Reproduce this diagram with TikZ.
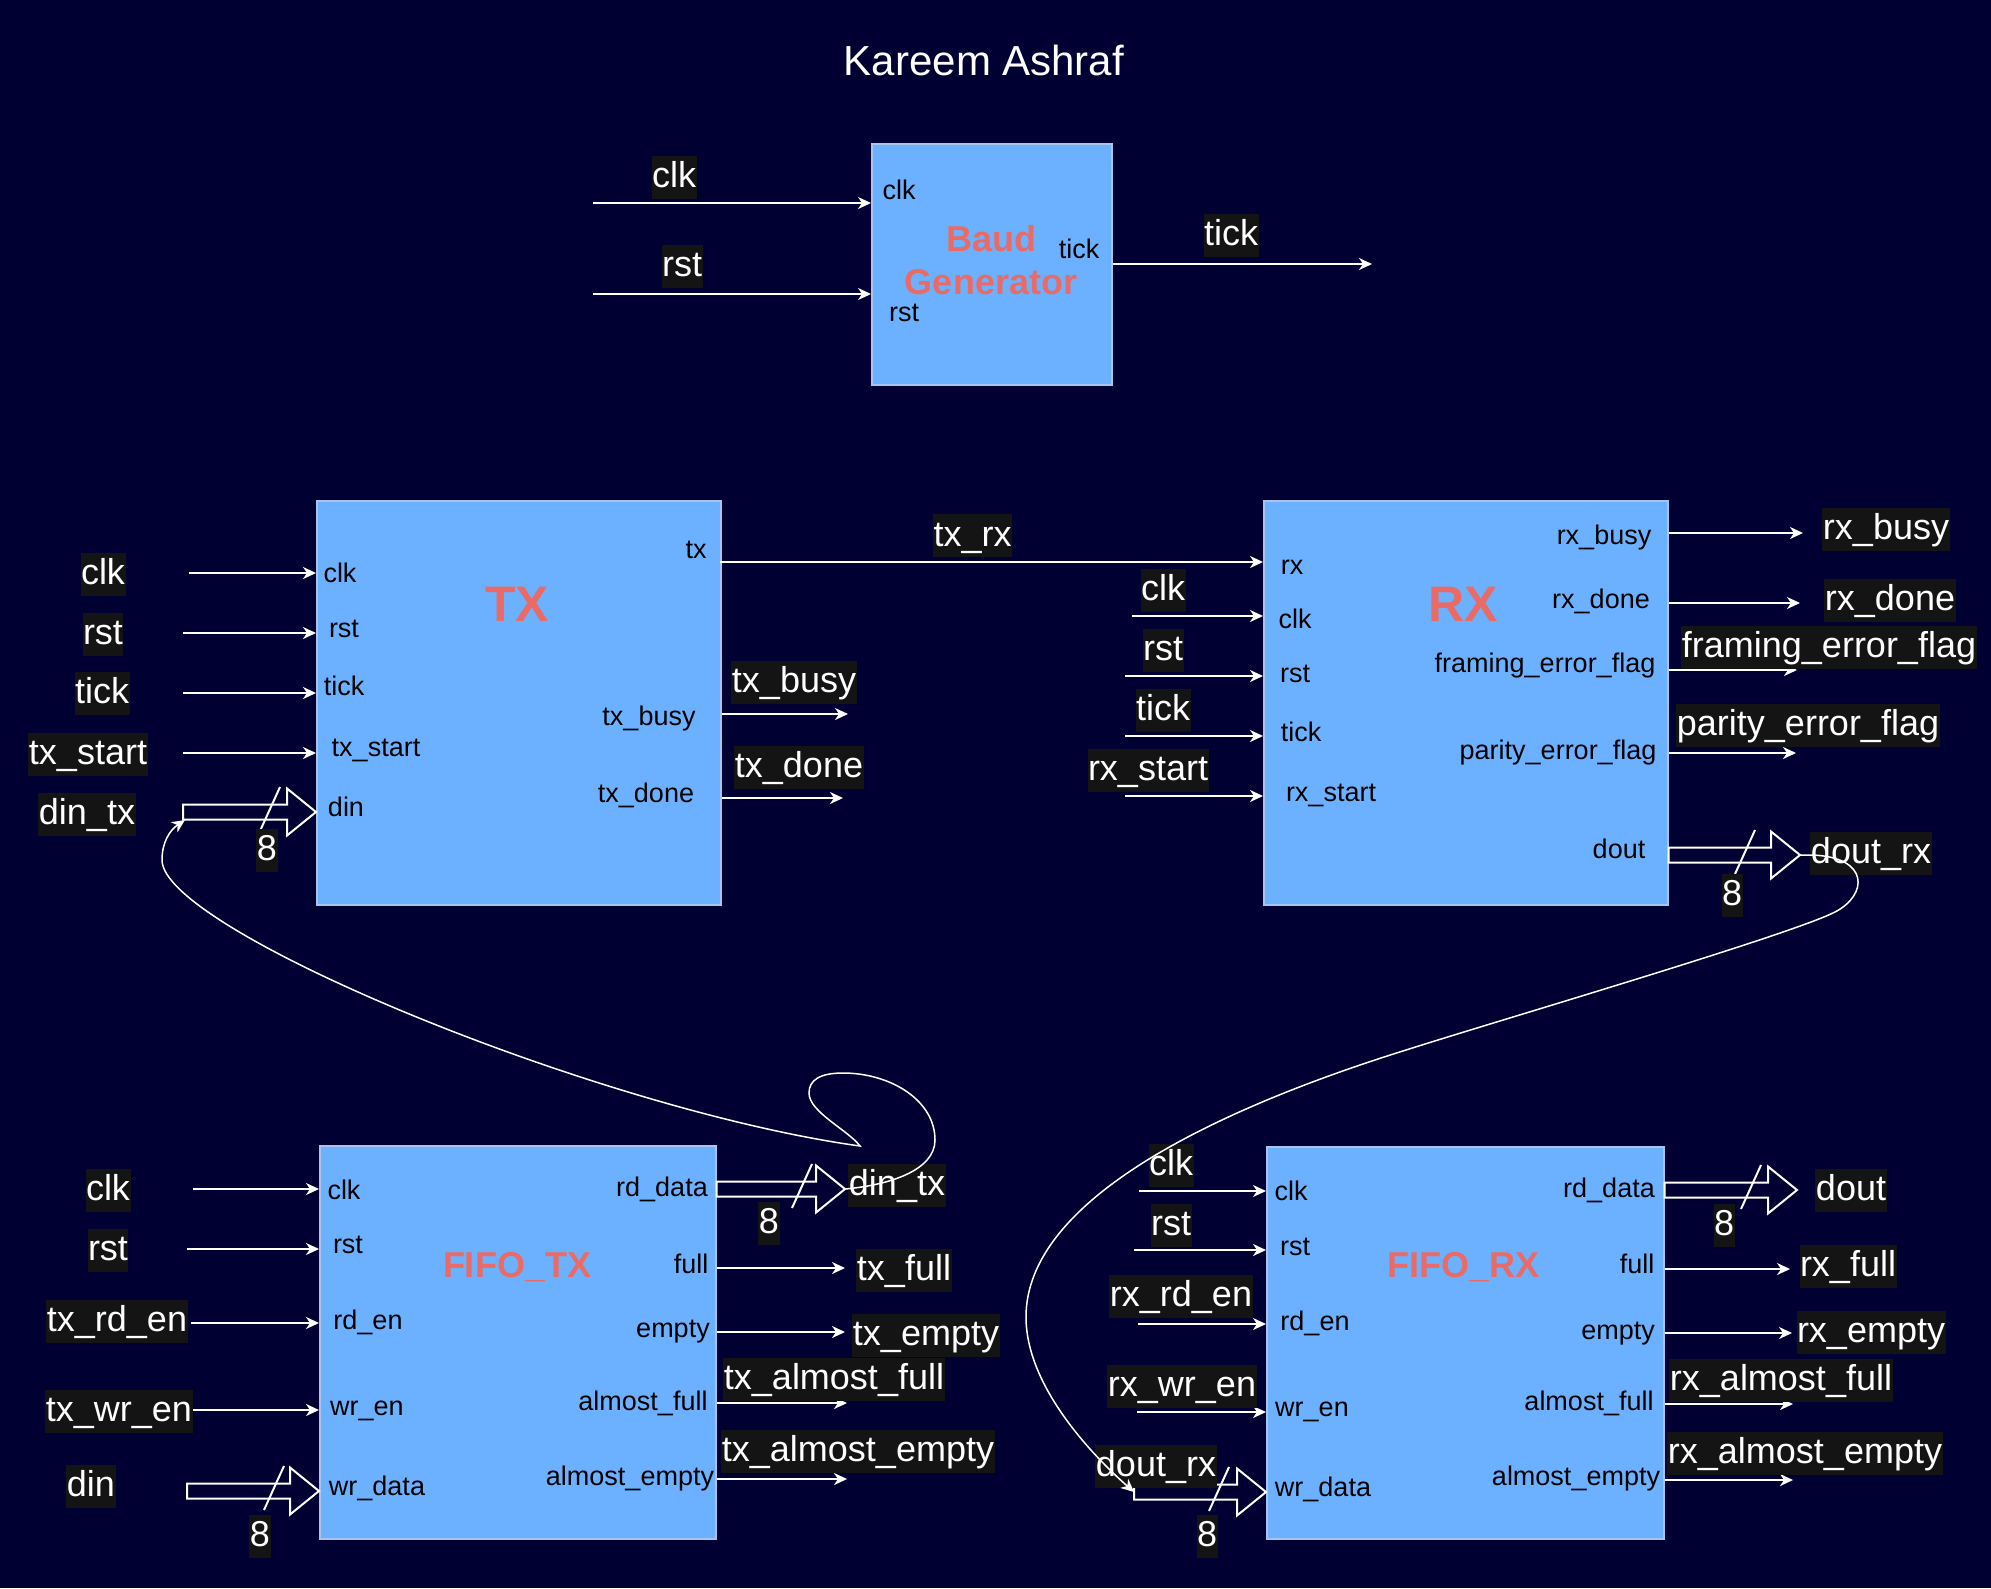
\documentclass[tikz,border=0pt]{standalone}
\usepackage{fontspec}
\setmainfont{Liberation Sans}
\usepackage{xcolor}
\usetikzlibrary{arrows.meta, positioning, calc}

\definecolor{bgnavy}{HTML}{000033}
\definecolor{blockblue}{HTML}{6BB1FF}
\definecolor{blockedge}{HTML}{A9C4EB}
\definecolor{tagbg}{HTML}{141414}
\definecolor{titlered}{HTML}{EA6B66}

% #1 tail, #2 tip, #3 x offset of the width slash
\newcommand{\busarrow}[3]{%
  \draw[bus] ($(#1)+(0,-7.5)$) -- ($(#2)+(-29,-7.5)$) -- ($(#2)+(-29,-23.5)$) -- (#2)
    -- ($(#2)+(-29,23.5)$) -- ($(#2)+(-29,7.5)$) -- ($(#1)+(0,7.5)$) -- cycle;
  \draw[bus] ($(#2)+(#3,-25)$) -- ($(#2)+({#3-20},19)$);}

\begin{document}
\begin{tikzpicture}[x=1pt, y=-1pt,
    block/.style={rectangle, draw=blockedge, fill=blockblue, line width=1.5pt, anchor=north west, inner sep=0pt},
    blockname/.style={text=titlered, font=\bfseries\fontsize{36}{43}\selectfont, align=center},
    port/.style={text=black, inner sep=0pt, text height=0.75em, text depth=0.2em, yshift=-6pt, font=\fontsize{27}{32}\selectfont},
    sigtag/.style={fill=tagbg, text=white, inner xsep=0.5pt, inner ysep=2pt, text height=30pt, text depth=9pt, yshift=-3pt, font=\fontsize{36}{43}\selectfont},
    heading/.style={text=white, font=\fontsize{42}{50}\selectfont},
    sig/.style={draw=white, line width=2pt, -{Stealth[length=13pt, width=12pt, inset=4pt]}},
    bus/.style={draw=white, line width=2pt},
    loopwire/.style={draw=white, line width=1.5pt, -{Stealth[length=13pt, width=12pt, inset=4pt]}}
]
\useasboundingbox (0,0) rectangle (1991,1588);
\fill[bgnavy] (0,0) rectangle (1991,1588);

\node[heading] (author) at (984,60) {Kareem Ashraf};

% baud generator
\node[block, minimum width=240pt, minimum height=241pt] (baud) at (871,143) {};
\node[blockname] (baud-name) at (991,260) {Baud\\Generator};
\node[port] (baud-p-clk) at (899,191) {clk};
\node[port] (baud-p-rst) at (904,313) {rst};
\node[port] (baud-p-tick) at (1079,250) {tick};
\coordinate (baud-clk-in) at (593,203);
\coordinate (baud-rst-in) at (593,294);
\coordinate (baud-tick-out) at (1372,264);
\draw[sig] (baud-clk-in) -- (baud-clk-in -| baud.west);
\draw[sig] (baud-rst-in) -- (baud-rst-in -| baud.west);
\draw[sig] (baud-tick-out -| baud.east) -- (baud-tick-out);
\node[sigtag] (baud-clk) at (674,174) {clk};
\node[sigtag] (baud-rst) at (682,263) {rst};
\node[sigtag] (baud-tick) at (1231,232) {tick};

% transmitter
\node[block, minimum width=404pt, minimum height=404pt] (tx) at (316,500) {};
\node[blockname, font=\bfseries\fontsize{50}{60}\selectfont] (tx-name) at (517,604) {TX};
\node[port] (tx-p-clk) at (340,574) {clk};
\node[port] (tx-p-rst) at (344,629) {rst};
\node[port] (tx-p-tick) at (344,687) {tick};
\node[port] (tx-p-start) at (376,748) {tx\_start};
\node[port] (tx-p-din) at (346,808) {din};
\node[port] (tx-p-tx) at (696,550) {tx};
\node[port] (tx-p-busy) at (649,717) {tx\_busy};
\node[port] (tx-p-done) at (646,794) {tx\_done};
\coordinate (tx-clk-in) at (189,573);
\coordinate (tx-rst-in) at (183,633);
\coordinate (tx-tick-in) at (183,693);
\coordinate (tx-start-in) at (183,753);
\coordinate (tx-din-tail) at (183,812);
\coordinate (tx-din-tip) at (tx-din-tail -| tx.west);
\coordinate (tx-din-corner) at ($(tx-din-tail)+(2,8)$);
\draw[sig] (tx-clk-in) -- (tx-clk-in -| tx.west);
\draw[sig] (tx-rst-in) -- (tx-rst-in -| tx.west);
\draw[sig] (tx-tick-in) -- (tx-tick-in -| tx.west);
\draw[sig] (tx-start-in) -- (tx-start-in -| tx.west);
\busarrow{tx-din-tail}{tx-din-tip}{-36}
\coordinate (tx-out) at (720,562);
\coordinate (tx-busy-out) at (848,714);
\coordinate (tx-done-out) at (843,798);
\draw[sig] (tx-busy-out -| tx.east) -- (tx-busy-out);
\draw[sig] (tx-done-out -| tx.east) -- (tx-done-out);
\node[sigtag] (tx-clk) at (103,571) {clk};
\node[sigtag] (tx-rst) at (103,631) {rst};
\node[sigtag] (tx-tick) at (102,690) {tick};
\node[sigtag] (tx-start) at (88,751) {tx\_start};
\node[sigtag] (tx-din) at (87,811) {din\_tx};
\node[sigtag] (tx-din-width) at (267,847) {8};
\node[sigtag] (tx-busy) at (794,679) {tx\_busy};
\node[sigtag] (tx-done) at (799,764) {tx\_done};

% receiver
\node[block, minimum width=404pt, minimum height=404pt] (rx) at (1263,500) {};
\node[blockname, font=\bfseries\fontsize{50}{60}\selectfont] (rx-name) at (1463,604) {RX};
\node[port] (rx-p-rx) at (1292,566) {rx};
\node[port] (rx-p-clk) at (1295,620) {clk};
\node[port] (rx-p-rst) at (1295,674) {rst};
\node[port] (rx-p-tick) at (1301,733) {tick};
\node[port] (rx-p-start) at (1331,793) {rx\_start};
\node[port] (rx-p-busy) at (1604,536) {rx\_busy};
\node[port] (rx-p-done) at (1601,600) {rx\_done};
\node[port] (rx-p-ferr) at (1545,664) {framing\_error\_flag};
\node[port] (rx-p-perr) at (1558,751) {parity\_error\_flag};
\node[port] (rx-p-dout) at (1619,850) {dout};
\draw[sig] (tx-out) -- node[sigtag, above=7pt, pos=0.465] (tx-rx) {tx\_rx} (tx-out -| rx.west);
\coordinate (rx-clk-in) at (1132,616);
\coordinate (rx-rst-in) at (1125,676);
\coordinate (rx-tick-in) at (1125,736);
\coordinate (rx-start-in) at (1125,796);
\draw[sig] (rx-clk-in) -- (rx-clk-in -| rx.west);
\draw[sig] (rx-rst-in) -- (rx-rst-in -| rx.west);
\draw[sig] (rx-tick-in) -- (rx-tick-in -| rx.west);
\draw[sig] (rx-start-in) -- (rx-start-in -| rx.west);
\coordinate (rx-busy-out) at (1803,533);
\coordinate (rx-done-out) at (1800,603);
\coordinate (rx-ferr-out) at (1797,670);
\coordinate (rx-perr-out) at (1796,753);
\coordinate (rx-dout-tip) at (1800,855);
\coordinate (rx-dout-tail) at (rx-dout-tip -| rx.east);
\draw[sig] (rx-busy-out -| rx.east) -- (rx-busy-out);
\draw[sig] (rx-done-out -| rx.east) -- (rx-done-out);
\draw[sig] (rx-ferr-out -| rx.east) -- (rx-ferr-out);
\draw[sig] (rx-perr-out -| rx.east) -- (rx-perr-out);
\busarrow{rx-dout-tail}{rx-dout-tip}{-45}
\node[sigtag] (rx-clk) at (1163,587) {clk};
\node[sigtag] (rx-rst) at (1163,647) {rst};
\node[sigtag] (rx-tick) at (1163,707) {tick};
\node[sigtag] (rx-start) at (1148,767) {rx\_start};
\node[sigtag] (rx-busy) at (1886,526) {rx\_busy};
\node[sigtag] (rx-done) at (1890,597) {rx\_done};
\node[sigtag] (rx-ferr) at (1829,644) {framing\_error\_flag};
\node[sigtag] (rx-perr) at (1808,722) {parity\_error\_flag};
\node[sigtag] (rx-dout) at (1871,850) {dout\_rx};
\node[sigtag] (rx-dout-width) at (1732,892) {8};

% transmit fifo
\node[block, minimum width=396pt, minimum height=393pt] (fifotx) at (319,1145) {};
\node[blockname] (fifotx-name) at (517,1267) {FIFO\_TX};
\node[port] (fifotx-p-clk) at (344,1191) {clk};
\node[port] (fifotx-p-rst) at (348,1245) {rst};
\node[port] (fifotx-p-rden) at (368,1321) {rd\_en};
\node[port] (fifotx-p-wren) at (367,1407) {wr\_en};
\node[port] (fifotx-p-wrdata) at (377,1487) {wr\_data};
\node[port] (fifotx-p-rddata) at (662,1188) {rd\_data};
\node[port] (fifotx-p-full) at (691,1265) {full};
\node[port] (fifotx-p-empty) at (673,1329) {empty};
\node[port] (fifotx-p-afull) at (643,1402) {almost\_full};
\node[port] (fifotx-p-aempty) at (630,1477) {almost\_empty};
\coordinate (fifotx-clk-in) at (193,1189);
\coordinate (fifotx-rst-in) at (187,1249);
\coordinate (fifotx-rden-in) at (191,1323);
\coordinate (fifotx-wren-in) at (191,1410);
\coordinate (fifotx-wr-tail) at (187,1491);
\coordinate (fifotx-wr-tip) at (fifotx-wr-tail -| fifotx.west);
\draw[sig] (fifotx-clk-in) -- (fifotx-clk-in -| fifotx.west);
\draw[sig] (fifotx-rst-in) -- (fifotx-rst-in -| fifotx.west);
\draw[sig] (fifotx-rden-in) -- (fifotx-rden-in -| fifotx.west);
\draw[sig] (fifotx-wren-in) -- (fifotx-wren-in -| fifotx.west);
\busarrow{fifotx-wr-tail}{fifotx-wr-tip}{-35}
\coordinate (fifotx-rd-tip) at (845,1189);
\coordinate (fifotx-rd-tail) at (fifotx-rd-tip -| fifotx.east);
\busarrow{fifotx-rd-tail}{fifotx-rd-tip}{-33}
\coordinate (fifotx-full-out) at (845,1268);
\coordinate (fifotx-empty-out) at (845,1332);
\coordinate (fifotx-afull-out) at (847,1403);
\coordinate (fifotx-aempty-out) at (847,1479);
\draw[sig] (fifotx-full-out -| fifotx.east) -- (fifotx-full-out);
\draw[sig] (fifotx-empty-out -| fifotx.east) -- (fifotx-empty-out);
\draw[sig] (fifotx-afull-out -| fifotx.east) -- (fifotx-afull-out);
\draw[sig] (fifotx-aempty-out -| fifotx.east) -- (fifotx-aempty-out);
\node[sigtag] (fifotx-clk) at (108,1187) {clk};
\node[sigtag] (fifotx-rst) at (108,1247) {rst};
\node[sigtag] (fifotx-rden) at (117,1318) {tx\_rd\_en};
\node[sigtag] (fifotx-wren) at (119,1408) {tx\_wr\_en};
\node[sigtag] (fifotx-din) at (91,1483) {din};
\node[sigtag] (fifotx-wr-width) at (260,1533) {8};
\node[sigtag] (fifotx-rd-width) at (769,1220) {8};
\node[sigtag] (fifotx-dout) at (897,1182) {din\_tx};
\node[sigtag] (fifotx-full) at (904,1267) {tx\_full};
\node[sigtag] (fifotx-empty) at (926,1332) {tx\_empty};
\node[sigtag] (fifotx-afull) at (834,1376) {tx\_almost\_full};
\node[sigtag] (fifotx-aempty) at (858,1448) {tx\_almost\_empty};

% receive fifo
\node[block, minimum width=397pt, minimum height=392pt] (fiforx) at (1266,1146) {};
\node[blockname] (fiforx-name) at (1463,1267) {FIFO\_RX};
\node[port] (fiforx-p-clk) at (1291,1192) {clk};
\node[port] (fiforx-p-rst) at (1295,1247) {rst};
\node[port] (fiforx-p-rden) at (1315,1322) {rd\_en};
\node[port] (fiforx-p-wren) at (1312,1408) {wr\_en};
\node[port] (fiforx-p-wrdata) at (1323,1488) {wr\_data};
\node[port] (fiforx-p-rddata) at (1609,1189) {rd\_data};
\node[port] (fiforx-p-full) at (1637,1265) {full};
\node[port] (fiforx-p-empty) at (1618,1331) {empty};
\node[port] (fiforx-p-afull) at (1589,1402) {almost\_full};
\node[port] (fiforx-p-aempty) at (1576,1477) {almost\_empty};
\coordinate (fiforx-clk-in) at (1139,1191);
\coordinate (fiforx-rst-in) at (1134,1250);
\coordinate (fiforx-rden-in) at (1138,1324);
\coordinate (fiforx-wren-in) at (1137,1412);
\coordinate (fiforx-wr-tail) at (1134,1492);
\coordinate (fiforx-wr-tip) at (fiforx-wr-tail -| fiforx.west);
\draw[sig] (fiforx-clk-in) -- (fiforx-clk-in -| fiforx.west);
\draw[sig] (fiforx-rst-in) -- (fiforx-rst-in -| fiforx.west);
\draw[sig] (fiforx-rden-in) -- (fiforx-rden-in -| fiforx.west);
\draw[sig] (fiforx-wren-in) -- (fiforx-wren-in -| fiforx.west);
\busarrow{fiforx-wr-tail}{fiforx-wr-tip}{-37}
\coordinate (fiforx-rd-tip) at (1797,1190);
\coordinate (fiforx-rd-tail) at (fiforx-rd-tip -| fiforx.east);
\busarrow{fiforx-rd-tail}{fiforx-rd-tip}{-36}
\coordinate (fiforx-full-out) at (1790,1269);
\coordinate (fiforx-empty-out) at (1792,1333);
\coordinate (fiforx-afull-out) at (1793,1404);
\coordinate (fiforx-aempty-out) at (1793,1480);
\draw[sig] (fiforx-full-out -| fiforx.east) -- (fiforx-full-out);
\draw[sig] (fiforx-empty-out -| fiforx.east) -- (fiforx-empty-out);
\draw[sig] (fiforx-afull-out -| fiforx.east) -- (fiforx-afull-out);
\draw[sig] (fiforx-aempty-out -| fiforx.east) -- (fiforx-aempty-out);
\node[sigtag] (fiforx-clk) at (1171,1162) {clk};
\node[sigtag] (fiforx-rst) at (1171,1222) {rst};
\node[sigtag] (fiforx-rden) at (1181,1293) {rx\_rd\_en};
\node[sigtag] (fiforx-wren) at (1182,1383) {rx\_wr\_en};
\node[sigtag] (fiforx-din) at (1156,1463) {dout\_rx};
\node[sigtag] (fiforx-wr-width) at (1207,1533) {8};
\node[sigtag] (fiforx-rd-width) at (1724,1222) {8};
\node[sigtag] (fiforx-dout) at (1851,1187) {dout};
\node[sigtag] (fiforx-full) at (1848,1263) {rx\_full};
\node[sigtag] (fiforx-empty) at (1871,1329) {rx\_empty};
\node[sigtag] (fiforx-afull) at (1781,1377) {rx\_almost\_full};
\node[sigtag] (fiforx-aempty) at (1805,1450) {rx\_almost\_empty};

% loop-back wires
\draw[loopwire] (fifotx-rd-tip) .. controls (890,1185) and (935,1170) .. (935,1140)
  .. controls (935,1100) and (890,1073) .. (843,1073)
  .. controls (820,1073) and (809,1080) .. (809,1093)
  .. controls (809,1112) and (848,1130) .. (860,1146)
  .. controls (600,1110) and (162,930) .. (162,860)
  .. controls (162,842) and (170,830) .. (tx-din-corner);
\draw[loopwire] (rx-dout-tip) -- ++(12,0) .. controls (1870,857) and (1868,895) .. (1835,912)
  .. controls (1790,935) and (1500,1020) .. (1406,1050)
  .. controls (1214,1110) and (1026,1200) .. (1026,1317)
  .. controls (1026,1390) and (1100,1462) .. (fiforx-wr-tail);
\end{tikzpicture}
\end{document}
